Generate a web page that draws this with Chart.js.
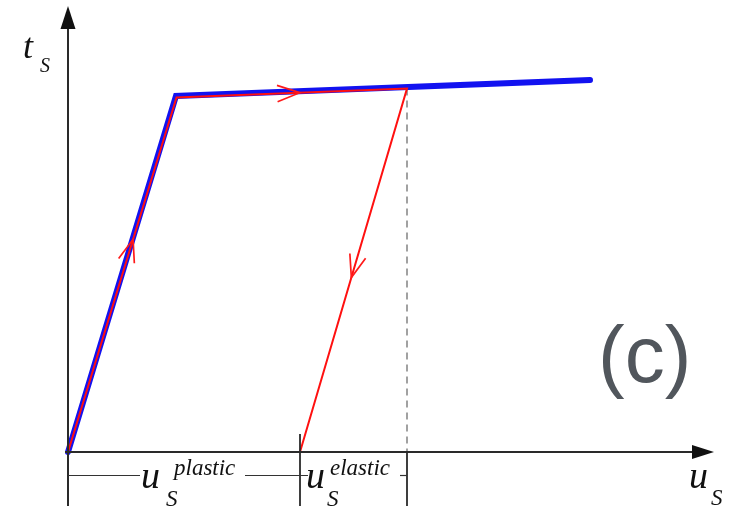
<!DOCTYPE html>
<html>
<head>
<meta charset="utf-8">
<script src="https://cdn.jsdelivr.net/npm/chart.js@4.4.1/dist/chart.umd.min.js"></script>
<style>
html,body{margin:0;padding:0;background:#fff;}
#wrap{width:731px;height:508px;position:relative;}
</style>
</head>
<body>
<div id="wrap"><canvas id="c" width="731" height="508"></canvas></div>
<script>
// Data (displacement u_S, stress t_S) in arbitrary units
const envelopeU = [0, 10.8, 52.2];
const envelopeT = [0, 35.6, 37.2];
const pathU = [0, 10.85, 33.9, 23.2];
const pathT = [0, 35.45, 36.35, 0];
const unloadMarkU = [33.9, 33.9];
const unloadMarkT = [36.35, 0];
const arrowFractions = [0.60, 0.535, 0.52]; // position along each red segment
const labels = {y: 't', ySub: 'S', x: 'u', xSub: 'S', plastic: 'plastic', elastic: 'elastic', panel: '(c)'};

const toPts = (u, t) => u.map((v, i) => ({x: v, y: t[i]}));

const overlay = {
  id: 'overlay',
  afterDatasetsDraw(chart) {
    const {ctx} = chart;
    const xs = chart.scales.x, ys = chart.scales.y;
    const px = v => xs.getPixelForValue(v), py = v => ys.getPixelForValue(v);
    const ox = px(0), oy = py(0);
    ctx.save();
    // axes
    ctx.strokeStyle = '#2a2a2a'; ctx.fillStyle = '#111'; ctx.lineWidth = 2;
    ctx.beginPath(); ctx.moveTo(ox, 506); ctx.lineTo(ox, 24); ctx.stroke();
    ctx.beginPath(); ctx.moveTo(ox, 6); ctx.lineTo(ox - 7.5, 29); ctx.lineTo(ox + 7.5, 29); ctx.closePath(); ctx.fill();
    ctx.beginPath(); ctx.moveTo(ox - 3, oy); ctx.lineTo(696, oy); ctx.stroke();
    ctx.beginPath(); ctx.moveTo(714, oy); ctx.lineTo(692, oy - 7); ctx.lineTo(692, oy + 7); ctx.closePath(); ctx.fill();
    // dimension ticks
    const xp = px(pathU[3]), xe = px(pathU[2]);
    ctx.lineWidth = 1.8; ctx.strokeStyle = '#2a2a2a';
    ctx.beginPath(); ctx.moveTo(xp, oy - 18); ctx.lineTo(xp, 506); ctx.stroke();
    ctx.beginPath(); ctx.moveTo(xe, oy); ctx.lineTo(xe, 506); ctx.stroke();
    // dimension line segments
    const dy = 475.5;
    ctx.lineWidth = 1.2; ctx.strokeStyle = '#333';
    [[ox, 140], [245, xp + 8], [400, xe]].forEach(([a, b]) => {
      ctx.beginPath(); ctx.moveTo(a, dy); ctx.lineTo(b, dy); ctx.stroke();
    });
    // arrowheads on red path
    ctx.strokeStyle = '#ff1a1a'; ctx.lineWidth = 1.7;
    for (let i = 0; i < 3; i++) {
      const x0 = px(pathU[i]), y0 = py(pathT[i]), x1 = px(pathU[i + 1]), y1 = py(pathT[i + 1]);
      const f = arrowFractions[i];
      const tx = x0 + (x1 - x0) * f, ty = y0 + (y1 - y0) * f;
      const ang = Math.atan2(y1 - y0, x1 - x0);
      const L = 24, h = 20 * Math.PI / 180;
      ctx.beginPath();
      ctx.moveTo(tx - L * Math.cos(ang - h), ty - L * Math.sin(ang - h));
      ctx.lineTo(tx, ty);
      ctx.lineTo(tx - L * Math.cos(ang + h), ty - L * Math.sin(ang + h));
      ctx.stroke();
    }
    // texts
    ctx.fillStyle = '#111'; ctx.textBaseline = 'alphabetic'; ctx.textAlign = 'left';
    const serif = (s) => 'italic ' + s + 'px "Liberation Serif", "DejaVu Serif", serif';
    ctx.font = serif(36); ctx.fillText(labels.y, 23, 58);
    ctx.font = serif(20); ctx.fillText(labels.ySub, 40, 72);
    ctx.font = serif(38); ctx.fillText(labels.x, 689, 488);
    ctx.font = serif(23); ctx.fillText(labels.xSub, 711, 505);
    ctx.font = serif(38); ctx.fillText(labels.x, 141, 488);
    ctx.font = serif(23); ctx.fillText(labels.xSub, 166, 506);
    ctx.font = serif(23); ctx.fillText(labels.plastic, 174, 475);
    ctx.font = serif(38); ctx.fillText(labels.x, 306, 488);
    ctx.font = serif(23); ctx.fillText(labels.xSub, 327, 506);
    ctx.font = serif(23); ctx.fillText(labels.elastic, 330, 475);
    ctx.fillStyle = '#51565c';
    ctx.font = '80px "Liberation Sans", Arial, sans-serif';
    ctx.fillText(labels.panel, 598, 382);
    ctx.restore();
  }
};

const xMin = -6.8, xMax = 66.3, yMin = -5.6, yMax = 45.2;

new Chart(document.getElementById('c'), {
  type: 'scatter',
  data: {
    datasets: [
      {data: toPts(pathU, pathT), showLine: true, borderColor: '#ff1010', borderWidth: 2, pointRadius: 0, order: 0, borderJoinStyle: 'miter'},
      {data: toPts(unloadMarkU, unloadMarkT), showLine: true, borderColor: '#8a8a8a', borderWidth: 1.6, borderDash: [7, 5], pointRadius: 0, order: 2},
      {data: toPts(envelopeU, envelopeT), showLine: true, borderColor: '#1212f0', borderWidth: 6, pointRadius: 0, order: 1, borderCapStyle: 'round', borderJoinStyle: 'miter'}
    ]
  },
  options: {
    responsive: false, animation: false, devicePixelRatio: 1,
    layout: {padding: 0},
    plugins: {legend: {display: false}, tooltip: {enabled: false}},
    scales: {
      x: {type: 'linear', min: xMin, max: xMax, display: false},
      y: {type: 'linear', min: yMin, max: yMax, display: false}
    }
  },
  plugins: [overlay]
});
</script>
</body>
</html>
